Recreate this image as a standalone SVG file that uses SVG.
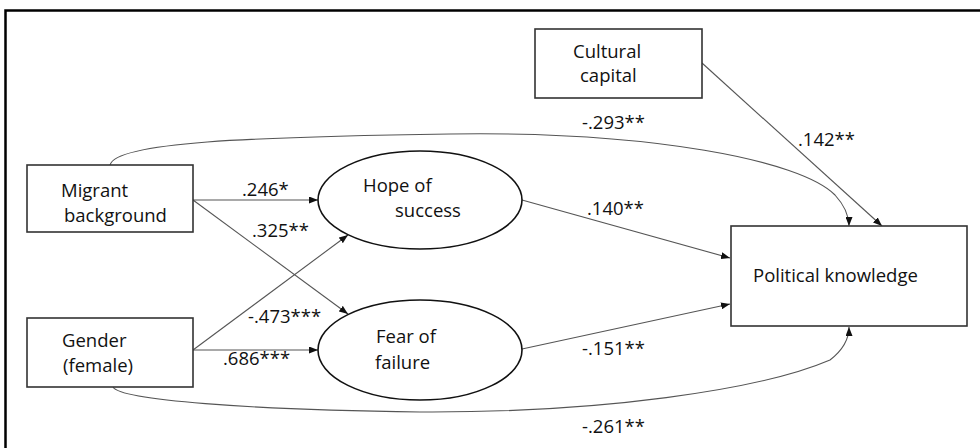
<svg xmlns="http://www.w3.org/2000/svg" width="980" height="448" viewBox="0 0 980 448">
<style>
.box{fill:#fff;stroke:#333;stroke-width:1.6}
.ell{fill:#fff;stroke:#111;stroke-width:1.6}
.t{font-family:"Open Sans","Liberation Sans",sans-serif;font-size:18.5px;fill:#111}
.c{fill:none;stroke:#555;stroke-width:1.1}
</style>
<defs>
<marker id="ah" markerUnits="userSpaceOnUse" markerWidth="9" markerHeight="7" refX="9" refY="3.5" orient="auto">
<path d="M0,0 L9,3.5 L0,7 z" fill="#111"/>
</marker>
</defs>
<rect width="980" height="448" fill="#fff"/>
<path d="M5.5,448 V10.5 H980" fill="none" stroke="#000" stroke-width="2.5"/>
<g id="connectors">
<path class="c" d="M193,200 H318" marker-end="url(#ah)"/>
<path class="c" d="M193,200 L348,314" marker-end="url(#ah)"/>
<path class="c" d="M193,350 L348,235" marker-end="url(#ah)"/>
<path class="c" d="M193,350 H318" marker-end="url(#ah)"/>
<path class="c" d="M522,200 L730,258" marker-end="url(#ah)"/>
<path class="c" d="M522,349 L730,304" marker-end="url(#ah)"/>
<path class="c" d="M702,63 L882,226" marker-end="url(#ah)"/>
<path class="c" d="M110,165 C116,142 250,137 450,134 C650,131 800,160 835,195 C846,207 849,216 849,226" marker-end="url(#ah)"/>
<path class="c" d="M113,387 C120,400 250,410 420,412 C600,413 760,390 830,360 C843,350 849,338 849,327" marker-end="url(#ah)"/>
<text class="t" x="242" y="196">.246*</text>
<text class="t" x="252" y="237">.325**</text>
<text class="t" x="248" y="323">-.473***</text>
<text class="t" x="223" y="365">.686***</text>
<text class="t" x="587" y="215">.140**</text>
<text class="t" x="582" y="355">-.151**</text>
<text class="t" x="582" y="129">-.293**</text>
<text class="t" x="798" y="146">.142**</text>
<text class="t" x="582" y="433">-.261**</text>
</g>
<g id="cultural">
<rect class="box" x="535" y="29" width="167" height="69"/>
<text class="t" x="573" y="58">Cultural</text>
<text class="t" x="580" y="82">capital</text>
</g>
<g id="migrant">
<rect class="box" x="27" y="165" width="166" height="67"/>
<text class="t" x="61" y="197">Migrant</text>
<text class="t" x="64" y="222">background</text>
</g>
<g id="gender">
<rect class="box" x="27" y="318" width="166" height="69"/>
<text class="t" x="62" y="347">Gender</text>
<text class="t" x="63" y="372">(female)</text>
</g>
<g id="hope">
<ellipse class="ell" cx="420" cy="200" rx="102" ry="49"/>
<text class="t" x="363" y="192">Hope of</text>
<text class="t" x="395" y="217">success</text>
</g>
<g id="fear">
<ellipse class="ell" cx="420" cy="350" rx="102" ry="50"/>
<text class="t" x="376" y="343">Fear of</text>
<text class="t" x="375" y="369">failure</text>
</g>
<g id="political">
<rect class="box" x="731" y="226" width="236" height="100"/>
<text class="t" x="753" y="282">Political knowledge</text>
</g>
</svg>
